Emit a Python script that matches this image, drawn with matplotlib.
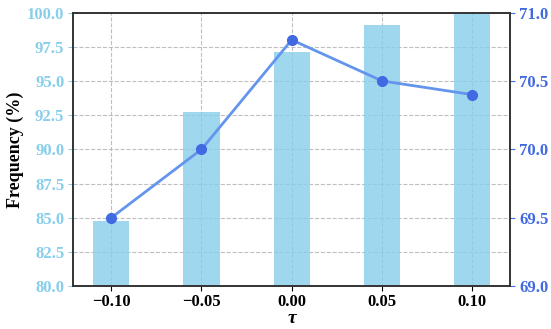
import numpy as np
import matplotlib
matplotlib.use("Agg")
import matplotlib.pyplot as plt

plt.rcParams['font.family'] = ['Liberation Serif', 'DejaVu Serif']
plt.rcParams['font.weight'] = 'bold'

# data
tau = [-0.10, -0.05, 0.00, 0.05, 0.10]
frequency = [84.8, 92.7, 97.1, 99.1, 99.9]
accuracy = [69.5, 70.0, 70.8, 70.5, 70.4]

fig, ax1 = plt.subplots(figsize=(5.51, 3.29), dpi=100)
fig.subplots_adjust(left=0.133, right=0.926, top=0.962, bottom=0.13)

ax1.bar(tau, frequency, width=0.02, color='#87CEEB', alpha=0.8, zorder=2)
ax1.set_ylim(80, 100)
ax1.set_yticks(np.arange(80, 100.1, 2.5))
ax1.set_yticklabels([f"{v:.1f}" for v in np.arange(80, 100.1, 2.5)])
ax1.tick_params(axis='y', colors='#87CEEB', labelsize=12, pad=3)
ax1.tick_params(axis='x', labelsize=12, pad=2)
ax1.set_xticks(tau)
ax1.set_xticklabels(["\u22120.10", "\u22120.05", "0.00", "0.05", "0.10"])
ax1.set_xlabel("\u03c4", fontsize=14, fontweight='bold', fontstyle='italic', labelpad=0)
ax1.set_ylabel("Frequency (%)", fontsize=13, fontweight='bold', labelpad=2)
ax1.grid(True, linestyle='--', color='#b0b0b0', alpha=0.8, zorder=0)
ax1.set_axisbelow(True)

ax2 = ax1.twinx()
ax2.plot(tau, accuracy, color='#6495ED', linewidth=2, marker='o', markersize=7,
         markerfacecolor='#4169E1', markeredgecolor='#4169E1', zorder=3)
ax2.set_ylim(69.0, 71.0)
ax2.set_yticks([69.0, 69.5, 70.0, 70.5, 71.0])
ax2.set_yticklabels(["69.0", "69.5", "70.0", "70.5", "71.0"])
ax2.tick_params(axis='y', colors='#4169E1', labelsize=12, pad=3)
ax2.set_ylabel("Accuracy (%)", fontsize=13, fontweight='bold', labelpad=6)

for ax in (ax1, ax2):
    for s in ax.spines.values():
        s.set_color('#333333')
        s.set_linewidth(1.2)

fig.savefig("out.png", dpi=100)
